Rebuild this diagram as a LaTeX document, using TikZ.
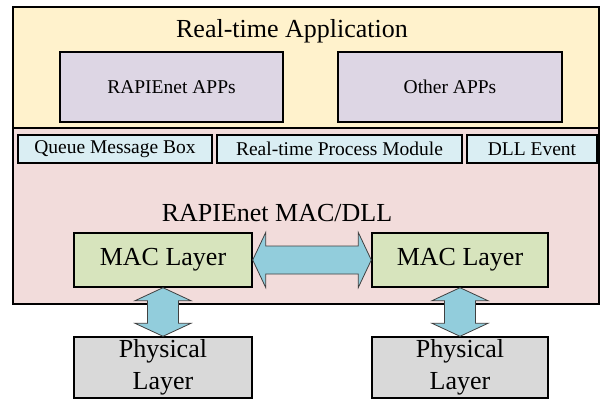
\documentclass[tikz,border=0pt]{standalone}
\usepackage{fontspec}
\setmainfont{Liberation Serif}
\usepackage{tikz}
\usetikzlibrary{calc,positioning}
\usepackage{xcolor}

\definecolor{appyellow}{HTML}{FFF2CC}
\definecolor{dllpink}{HTML}{F2DCDB}
\definecolor{applilac}{HTML}{DDD6E4}
\definecolor{modblue}{HTML}{DAEEF3}
\definecolor{macgreen}{HTML}{D7E4BD}
\definecolor{phygray}{HTML}{D9D9D9}
\definecolor{arrowcyan}{HTML}{92CDDC}

% wide two-headed arrows between layers
\newcommand{\sidearrow}[2]{%
  \draw[fatarrow] (#1.east) -- ++(13,-27.5) -- ++(0,13.5) -- ($(#2.west)+(-13,-14)$)
    -- ++(0,-13.5) -- (#2.west) -- ++(-13,27.5) -- ++(0,-13.5)
    -- ($(#1.east)+(13,14)$) -- ++(0,13.5) -- cycle;}
\newcommand{\layerarrow}[2]{%
  \draw[fatarrow] (#1.south) -- ++(28,13) -- ++(-12.5,0) -- ($(#2.north)+(15.5,-13)$)
    -- ++(12.5,0) -- (#2.north) -- ++(-28,-13) -- ++(12.5,0)
    -- ($(#1.south)+(-15.5,13)$) -- ++(-12.5,0) -- cycle;}

\begin{document}
\begin{tikzpicture}[x=1pt, y=-1pt,
  frame/.style={draw, line width=1.6pt, inner sep=0pt},
  box/.style={draw, line width=1.4pt, inner sep=0pt, align=center},
  big/.style={font=\fontsize{26}{32}\selectfont},
  small/.style={font=\fontsize{19.5}{23}\selectfont},
  fatarrow/.style={draw=black!75, line width=0.8pt, fill=arrowcyan, line join=miter}]
\useasboundingbox (0,0) rectangle (602,399);

% real-time application part
\node[frame, fill=appyellow, minimum width=586pt, minimum height=121pt] (app) at (306,67.5) {};
\node[big] (apptitle) at (292,31) {Real-time Application};
\node[box, small, fill=applilac, minimum width=223pt, minimum height=70pt] (rapps) at (171.5,87) {RAPIEnet APPs};
\node[box, small, fill=applilac, minimum width=224pt, minimum height=70pt] (oapps) at (450,87) {Other APPs};

% MAC/DLL part
\node[frame, fill=dllpink, minimum width=586pt, minimum height=176pt] (dll) at (306,216) {};
\node[box, small, fill=modblue, minimum width=194pt, minimum height=28pt] (queue) at (115,149) {Queue Message Box};
\node[box, small, fill=modblue, minimum width=245pt, minimum height=28pt] (proc) at (339.5,149) {Real-time Process Module};
\node[box, small, fill=modblue, minimum width=130pt, minimum height=28pt] (event) at (532,149) {DLL Event};
\node[big] (dlltitle) at (277,213) {RAPIEnet MAC/DLL};
\node[box, big, fill=macgreen, minimum width=178pt, minimum height=54pt] (macl) at (163,260) {MAC Layer};
\node[box, big, fill=macgreen, minimum width=176pt, minimum height=54pt] (macr) at (460,260) {MAC Layer};

% physical layers
\node[box, big, fill=phygray, minimum width=178pt, minimum height=61pt] (phyl) at (163,367.5) {Physical\\Layer};
\node[box, big, fill=phygray, minimum width=176pt, minimum height=61pt] (phyr) at (460,367.5) {Physical\\Layer};

\sidearrow{macl}{macr}
\layerarrow{macl}{phyl}
\layerarrow{macr}{phyr}
\end{tikzpicture}
\end{document}
